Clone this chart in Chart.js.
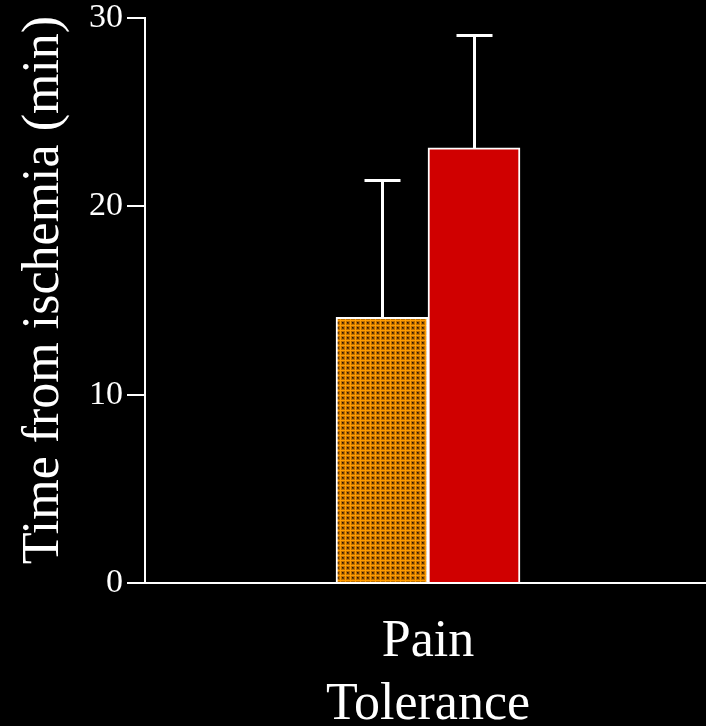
<!DOCTYPE html>
<html>
<head>
<meta charset="utf-8">
<script src="https://cdn.jsdelivr.net/npm/chart.js@4/dist/chart.umd.min.js"></script>
<style>
  html, body { margin: 0; padding: 0; background: #000; }
  #wrap { width: 706px; height: 726px; }
</style>
</head>
<body>
<div id="wrap"><canvas id="c" width="706" height="726"></canvas></div>
<script>
// Category and series values
const categories = [['Pain', 'Tolerance']];
const groupA = [14.1];     // first bar (dotted orange)
const groupASD = [7.3];    // upper error length
const groupB = [23.1];     // second bar (red)
const groupBSD = [6.0];    // upper error length
const yTicks = [0, 10, 20, 30];
const yTitle = 'Time from ischemia (min)';

const SERIF = "'Liberation Serif', 'Times New Roman', Times, serif";

// Dotted orange fill
function makeDotPattern() {
  const p = document.createElement('canvas');
  p.width = 5; p.height = 5;
  const g = p.getContext('2d');
  g.fillStyle = '#ff9c00';
  g.fillRect(0, 0, 5, 5);
  g.fillStyle = '#c07000';
  g.fillRect(1, 1, 4, 4);
  g.fillStyle = '#6a3a00';
  g.fillRect(2, 2, 2, 2);
  g.fillStyle = '#2a1600';
  g.fillRect(2, 2, 1, 1);
  return document.getElementById('c').getContext('2d').createPattern(p, 'repeat');
}

// Upward error bars with caps
const errorBars = {
  id: 'errorBars',
  afterDatasetsDraw(chart) {
    const ctx = chart.ctx;
    const y = chart.scales.y;
    ctx.save();
    ctx.strokeStyle = '#ffffff';
    ctx.lineWidth = 3;
    chart.data.datasets.forEach((ds, di) => {
      const meta = chart.getDatasetMeta(di);
      meta.data.forEach((bar, i) => {
        const top = Math.round(y.getPixelForValue(ds.data[i] + ds.errUp[i])) + 0.5;
        const x = Math.round(bar.x) + 0.5;
        ctx.beginPath();
        ctx.moveTo(x, bar.y);
        ctx.lineTo(x, top);
        ctx.moveTo(x - 18, top);
        ctx.lineTo(x + 18, top);
        ctx.stroke();
      });
    });
    ctx.restore();
  }
};

// Rotated axis title beside the y axis
const yAxisTitle = {
  id: 'yAxisTitle',
  afterDraw(chart) {
    const ctx = chart.ctx;
    ctx.save();
    ctx.translate(44, 290);
    ctx.rotate(-Math.PI / 2);
    ctx.fillStyle = '#ffffff';
    ctx.font = '52px ' + SERIF;
    ctx.textAlign = 'center';
    ctx.textBaseline = 'middle';
    ctx.fillText(yTitle, 0, 0);
    ctx.restore();
  }
};

// Let the x axis run slightly past the right edge of the canvas
const extendX = {
  id: 'extendX',
  afterLayout(chart) {
    const s = chart.scales.x;
    s.right += 5;
    s.width += 5;
    s.configure();
  }
};

function noScalePadding(s) {
  s.paddingTop = 0; s.paddingBottom = 0; s.paddingLeft = 0; s.paddingRight = 0;
}

new Chart(document.getElementById('c'), {
  type: 'bar',
  data: {
    labels: categories,
    datasets: [
      { data: groupA, errUp: groupASD, backgroundColor: makeDotPattern(),
        borderColor: '#ffffff', borderWidth: 2, barThickness: 92 },
      { data: groupB, errUp: groupBSD, backgroundColor: '#d00000',
        borderColor: '#ffffff', borderWidth: 2, barThickness: 92 }
    ]
  },
  options: {
    responsive: false,
    animation: false,
    layout: { padding: { top: 18, left: 0, right: 0, bottom: 0 } },
    plugins: { legend: { display: false }, tooltip: { enabled: false } },
    scales: {
      x: {
        grid: { display: false },
        border: { color: '#ffffff', width: 2 },
        ticks: { color: '#ffffff', font: { family: SERIF, size: 52, lineHeight: 1.21 }, padding: 20 },
        afterFit(s) { s.height = 143; noScalePadding(s); }
      },
      y: {
        min: 0, max: 30,
        afterBuildTicks(s) { s.ticks = yTicks.map(v => ({ value: v })); },
        grid: { drawOnChartArea: false, drawTicks: true, tickLength: 18, color: '#ffffff', lineWidth: 2 },
        border: { color: '#ffffff', width: 2 },
        ticks: { color: '#ffffff', font: { family: SERIF, size: 34 }, padding: 4 },
        afterFit(s) { s.width = 145; noScalePadding(s); }
      }
    }
  },
  plugins: [extendX, errorBars, yAxisTitle]
});
</script>
</body>
</html>
